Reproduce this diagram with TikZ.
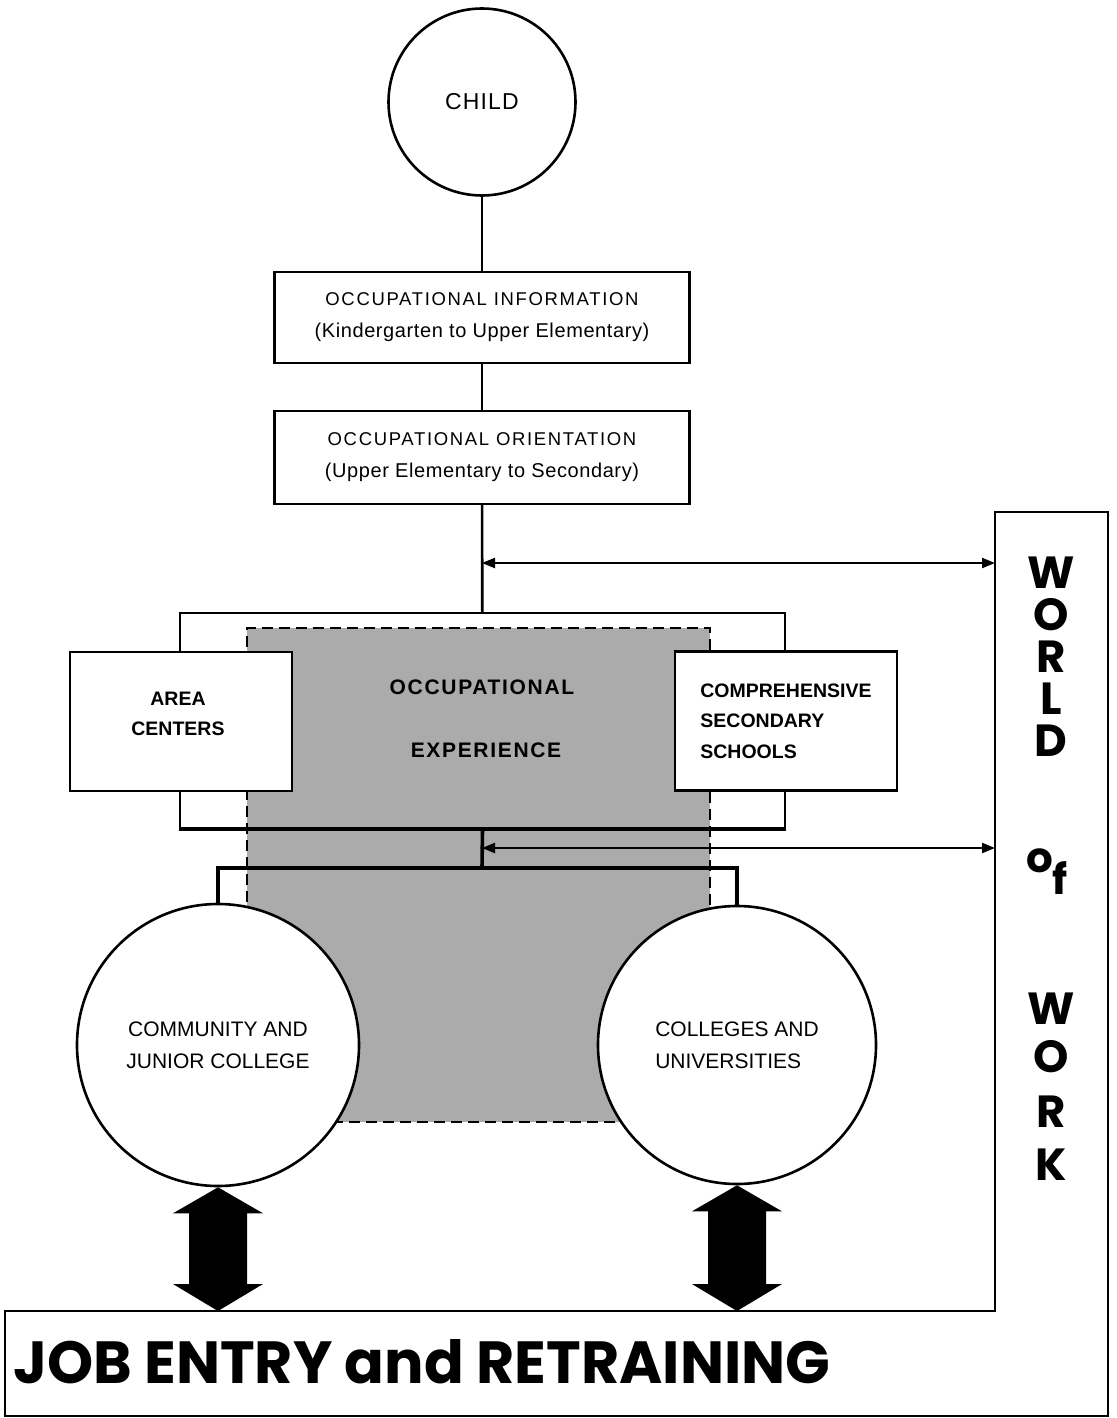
\documentclass[tikz,border=0pt]{standalone}
\usepackage{fontspec}
\setmainfont{Liberation Sans}
\newfontfamily\popf{Poppins}
\usetikzlibrary{arrows.meta,calc}
\newcommand\bxcap{\fontsize{18.5}{32}\selectfont\addfontfeatures{LetterSpace=9}}
\newcommand\bxpar{\fontsize{20}{32}\selectfont\addfontfeatures{LetterSpace=3}}
\newcommand\fatarrow[2]{%
  \fill (#1) -- ($(#1)+(45,26)$) -- ($(#1)+(29,26)$) -- ($(#2)+(29,-27)$) -- ($(#2)+(45,-27)$) -- (#2)
   -- ($(#2)+(-45,-27)$) -- ($(#2)+(-29,-27)$) -- ($(#1)+(-29,26)$) -- ($(#1)+(-45,26)$) -- cycle;}
\begin{document}
\begin{tikzpicture}[x=1pt,y=-1pt,
  box/.style={draw,line width=2.4pt,fill=white,rectangle,inner sep=0pt,align=center},
  chain/.style={box,minimum width=415pt,font=\fontsize{18.5}{32}\selectfont},
  circ/.style={draw,circle,line width=2.6pt,fill=white,inner sep=0pt,align=center,
     font=\fontsize{21}{32}\selectfont},
  link/.style={line width=2.6pt},
  heavy/.style={line width=3.6pt},
  dbl/.style={line width=2.2pt,{Triangle[length=13pt,width=10pt]}-{Triangle[length=13pt,width=10pt]}},
  sidebox/.style={box,minimum width=222pt,minimum height=139pt,font=\fontsize{19.5}{30.5}\selectfont\bfseries},
  sidetxt/.style={inner sep=0pt,align=center,font=\fontsize{19.5}{30.5}\selectfont\bfseries},
  shadetxt/.style={font=\fontsize{21}{25}\selectfont\bfseries\addfontfeatures{LetterSpace=8}},
  wow/.style={font=\fontsize{45}{45}\selectfont\popf\bfseries,inner sep=0pt},
  outline/.style={draw,line width=2.5pt}
]
\useasboundingbox (0,0) rectangle (1116,1418);

% World of Work + Job Entry outline
\coordinate (wtl) at (995,512);
\coordinate (wtr) at (1108,512);
\coordinate (jbr) at (1108,1416);
\coordinate (jbl) at (5,1416);
\coordinate (jtl) at (5,1311);
\coordinate (jtc) at (995,1311);
\draw[outline] (wtl) -- (wtr) -- (jbr) -- (jbl) -- (jtl) -- (jtc) -- cycle;

% upper chain
\node[circ,minimum size=187pt,font=\fontsize{23}{28}\selectfont\addfontfeatures{LetterSpace=5}] (child) at (482,102) {CHILD};
\node[chain,minimum height=91pt] (info) at (482,317.5)
  {{\bxcap OCCUPATIONAL INFORMATION}\\{\bxpar (Kindergarten to Upper Elementary)}};
\node[chain,minimum height=93pt] (orient) at (482,457.5)
  {{\bxcap OCCUPATIONAL ORIENTATION}\\{\bxpar (Upper Elementary to Secondary)}};

% frame and shaded occupational experience
\node[box,minimum width=605pt,minimum height=215pt] (frame) at (482.5,720.5) {};
\node[draw,line width=2.4pt,dash pattern=on 11pt off 6pt,fill=black!33,
      minimum width=463pt,minimum height=494pt,inner sep=0pt] (shade) at (478.5,875) {};
\draw[heavy] (frame.south west) -- (frame.south east);
\node[shadetxt] (occ1) at (482,687) {OCCUPATIONAL};
\node[shadetxt] (occ2) at (486,750) {EXPERIENCE};

% side boxes
\node[sidebox] (area) at (181,721.5) {};
\node[sidetxt] (areatxt) at (178,714) {AREA\\CENTERS};
\node[sidebox,align=left] (comp) at (786,721) {COMPREHENSIVE\\SECONDARY\\SCHOOLS};

% lower circles
\node[circ,minimum size=282pt] (lc) at (218,1045) {COMMUNITY AND\\JUNIOR COLLEGE};
\node[circ,minimum size=278pt,align=left] (rc) at (737,1045) {COLLEGES AND\\UNIVERSITIES};

% connectors
\draw[link] (child) -- (info);
\draw[link] (info) -- (orient);
\draw[link] (orient) -- (frame);
\coordinate (m1) at (482,563);
\coordinate (w1) at (995,563);
\draw[dbl] (m1) -- (w1);
\coordinate (jn) at (482,868);
\coordinate (m2) at (482,848);
\coordinate (w2) at (995,848);
\draw[heavy] (frame.south) -- (jn);
\draw[heavy] (lc.north) |- (jn) -| (rc.north);
\draw[dbl] (m2) -- (w2);

% big double arrows to Job Entry
\coordinate (jt) at (0,1311);
\fatarrow{lc.south}{lc.south |- jt}
\fatarrow{rc.south}{rc.south |- jt}

% World of Work lettering
\node[wow] (wW) at (1051,573) {W};
\node[wow] (wO) at (1051,615) {O};
\node[wow] (wR) at (1051,657) {R};
\node[wow] (wL) at (1051,699) {L};
\node[wow] (wD) at (1051,741) {D};
\node[font=\fontsize{42}{42}\selectfont\popf\bfseries,inner sep=0pt] (wof) at (1047,872) {o\raisebox{-22pt}{f}};
\node[wow] (kW) at (1051,1009) {W};
\node[wow] (kO) at (1051,1057) {O};
\node[wow] (kR) at (1051,1112) {R};
\node[wow] (kK) at (1051,1165) {K};

% Job Entry text
\node[anchor=west,inner sep=0pt] (job) at (13,1362)
  {\resizebox{817pt}{44pt}{\popf\bfseries JOB ENTRY and RETRAINING}};
\end{tikzpicture}
\end{document}
